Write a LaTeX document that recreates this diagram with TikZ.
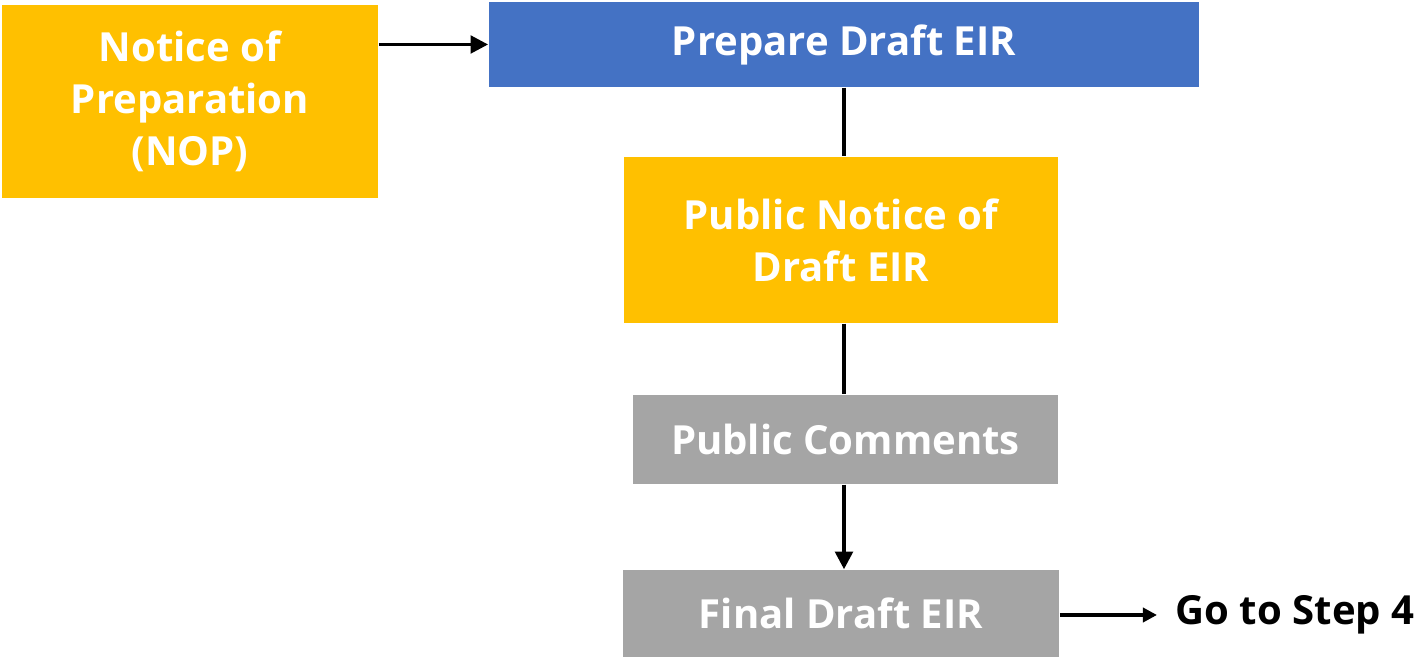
\documentclass[tikz,border=0pt]{standalone}
\usepackage{fontspec}
\setmainfont{Open Sans}
\usetikzlibrary{arrows.meta}

\definecolor{stepyellow}{HTML}{FFC000}
\definecolor{stepblue}{HTML}{4472C4}
\definecolor{stepgray}{HTML}{A5A5A5}

\begin{document}
\begin{tikzpicture}[
    x=0.01cm,
    y=-0.01cm,
    stepbox/.style={
        rectangle,
        inner sep=0pt,
        align=center,
        text=white,
        font=\fontsize{11.4}{14.8}\selectfont\bfseries
    },
    link/.style={
        line width=1pt
    },
    arr/.style={
        line width=1pt,
        -{Triangle[length=5pt,width=5pt]}
    }
]

% bounding box
\useasboundingbox (0,0) rectangle (1427,659);

% blocks
\node[stepbox, fill=stepyellow, minimum width=3.76cm, minimum height=1.93cm] (nop) at (190,101.5) {Notice of\\Preparation\\(NOP)};
\node[stepbox, fill=stepblue, minimum width=7.10cm, minimum height=0.85cm] (draft) at (844,44.5) {Prepare Draft EIR};
\node[stepbox, fill=stepyellow, minimum width=4.34cm, minimum height=1.66cm] (notice) at (841,240) {Public Notice of\\Draft EIR};
\node[stepbox, fill=stepgray, minimum width=4.25cm, minimum height=0.89cm] (comments) at (845.5,439.5) {Public Comments};
\node[stepbox, fill=stepgray, minimum width=4.36cm, minimum height=0.87cm] (final) at (841,613.5) {Final Draft EIR};

\node[anchor=west, inner sep=0pt, font=\fontsize{11.4}{14.8}\selectfont\bfseries] (next) at (1175,615) {Go to Step 4};

% connectors
\draw[arr] (nop.east |- draft.west) -- (draft.west);
\draw[link] (draft.south -| 844,0) -- (notice.north -| 844,0);
\draw[link] (notice.south -| 844,0) -- (comments.north -| 844,0);
\draw[arr] (comments.south -| 844,0) -- (final.north -| 844,0);
\draw[arr, -{Triangle[length=4pt,width=4pt]}] (final.east |- next.west) -- ([xshift=-0.18cm]next.west);

\end{tikzpicture}
\end{document}
